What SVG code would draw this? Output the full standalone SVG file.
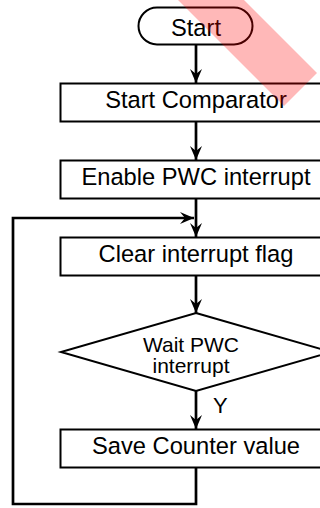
<svg xmlns="http://www.w3.org/2000/svg" width="320" height="508" viewBox="0 0 320 508">
  <style>
    .shape { fill: #ffffff; stroke: #000000; stroke-width: 2; }
    .label { font-family: "Liberation Sans", Arial, sans-serif; font-size: 23.7px; fill: #000000; text-anchor: middle; }
    .small { font-size: 21px; }
    .wire { fill: none; stroke: #000000; stroke-width: 2.7; }
  </style>
  <defs>
    <marker id="arrow" viewBox="0 0 14 12" refX="14" refY="6" markerWidth="14" markerHeight="12" markerUnits="userSpaceOnUse" orient="auto">
      <path d="M0,0 L14,6 L0,12 L5,6 Z" fill="#000000"/>
    </marker>
  </defs>
  <rect width="320" height="508" fill="#ffffff"/>

  <g id="connectors">
    <path class="wire" d="M196,45 V83" marker-end="url(#arrow)"/>
    <path class="wire" d="M196,121 V160" marker-end="url(#arrow)"/>
    <path class="wire" d="M196,199 V237" marker-end="url(#arrow)"/>
    <path class="wire" d="M196,275 V313" marker-end="url(#arrow)"/>
    <path class="wire" d="M196,391 V429" marker-end="url(#arrow)"/>
    <path class="wire" d="M196,468 V504 H13 V218 H194" marker-end="url(#arrow)"/>
    <text class="label" x="213" y="413" style="text-anchor:start; font-size:22px">Y</text>
  </g>

  <g id="start">
    <rect class="shape" x="138.5" y="7.5" width="114" height="37" rx="18.5"/>
    <text class="label" x="196" y="35.5">Start</text>
  </g>

  <g id="start-comparator">
    <rect class="shape" x="60.5" y="83.5" width="272" height="38"/>
    <text class="label" x="196" y="107.5">Start Comparator</text>
  </g>

  <g id="enable-pwc">
    <rect class="shape" x="60.5" y="160.5" width="272" height="38"/>
    <text class="label" x="196" y="185">Enable PWC interrupt</text>
  </g>

  <g id="clear-flag">
    <rect class="shape" x="60.5" y="237.5" width="272" height="38"/>
    <text class="label" x="196" y="261.5">Clear interrupt flag</text>
  </g>

  <g id="wait-pwc">
    <polygon class="shape" points="196,313 331,352 196,391 61,352"/>
    <text class="label small" x="191" y="352">Wait PWC</text>
    <text class="label small" x="191" y="373">interrupt</text>
  </g>

  <g id="save-counter">
    <rect class="shape" x="60.5" y="429.5" width="272" height="38"/>
    <text class="label" x="196" y="453.5">Save Counter value</text>
  </g>

  <!-- translucent red band across the top right -->
  <polygon points="178,0 244,0 317,73 284,106" fill="#ff0000" fill-opacity="0.28"/>
</svg>
